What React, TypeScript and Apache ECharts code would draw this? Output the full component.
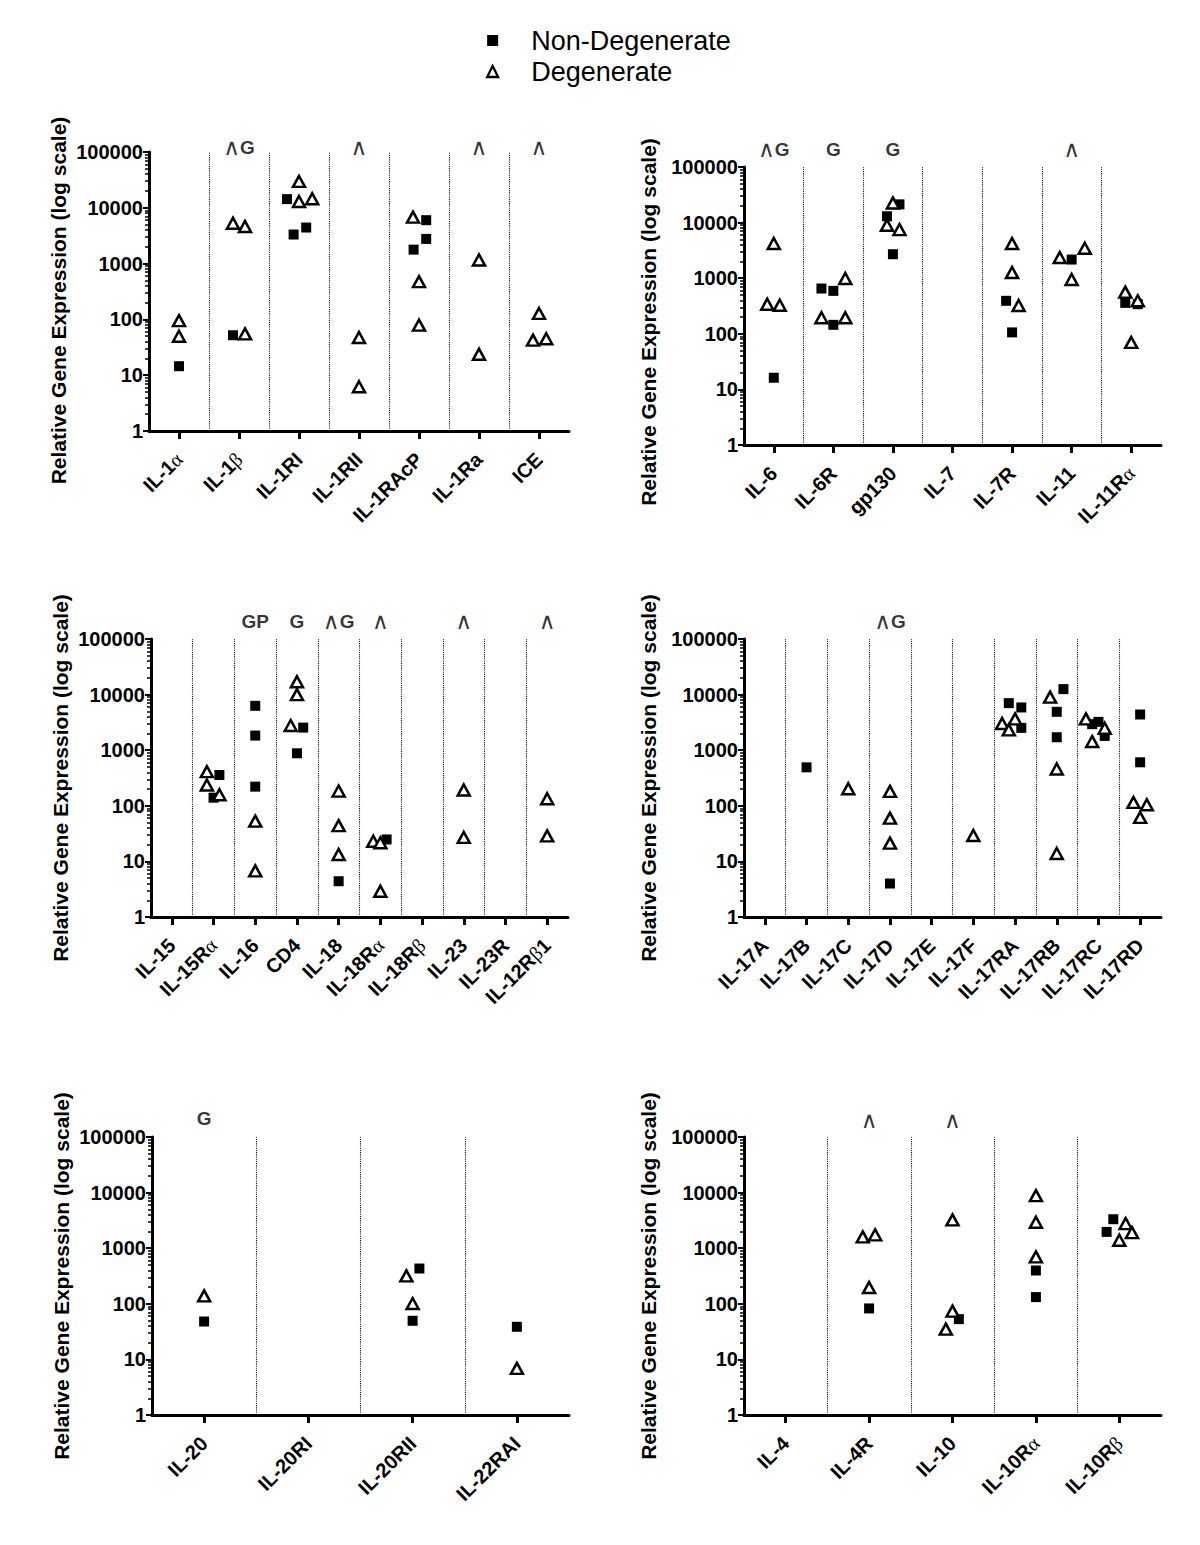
import React, { useEffect, useRef } from "react";
import * as echarts from "echarts";

const FONT = "'Liberation Sans', Arial, sans-serif";
const SERIES_ND = "Non-Degenerate";
const SERIES_D = "Degenerate";
const Y_NAME = "Relative Gene Expression (log scale)";

// ---- Panel 1 ----
const p1Categories = ["IL-1α", "IL-1β", "IL-1RI", "IL-1RII", "IL-1RAcP", "IL-1Ra", "ICE"];
const p1Marks = ["", "∧G", "", "∧", "", "∧", "∧"];
// [categoryIndex, jitter (fraction of category), value]
const p1NonDeg = [
  [0, 0, 14.5], [1, -0.1, 52], [2, -0.2, 14300], [2, -0.09, 3320], [2, 0.12, 4430],
  [4, 0.12, 6000], [4, 0.12, 2770], [4, -0.09, 1780],
];
const p1Deg = [
  [0, 0, 95], [0, 0, 50], [1, -0.1, 5300], [1, 0.1, 4620], [1, 0.1, 55],
  [2, 0, 29700], [2, 0, 13000], [2, 0.22, 14500], [3, 0, 47.5], [3, 0, 6.2],
  [4, -0.1, 6800], [4, 0, 475], [4, 0, 79], [5, 0, 1160], [5, 0, 23.8],
  [6, 0, 128], [6, -0.1, 42.5], [6, 0.12, 45],
];

// ---- Panel 2 ----
const p2Categories = ["IL-6", "IL-6R", "gp130", "IL-7", "IL-7R", "IL-11", "IL-11Rα"];
const p2Marks = ["∧G", "G", "G", "", "", "∧", ""];
const p2NonDeg = [
  [0, 0, 16.2], [1, -0.2, 652], [1, 0, 592], [1, 0, 145],
  [2, 0.11, 21300], [2, -0.1, 13000], [2, 0, 2700],
  [4, -0.1, 392], [4, 0, 106], [5, 0, 2165], [6, -0.1, 360], [6, 0.11, 341],
];
const p2Deg = [
  [0, 0, 4200], [0, -0.11, 341], [0, 0.1, 327],
  [1, 0.2, 986], [1, -0.2, 194], [1, 0.2, 194],
  [2, 0, 22500], [2, -0.1, 8950], [2, 0.11, 7490],
  [4, 0, 4200], [4, 0, 1265], [4, 0.11, 323],
  [5, -0.2, 2350], [5, 0.22, 3460], [5, 0, 946],
  [6, -0.1, 561], [6, 0.11, 392], [6, 0, 70],
];

// ---- Panel 3 ----
const p3Categories = ["IL-15", "IL-15Rα", "IL-16", "CD4", "IL-18", "IL-18Rα", "IL-18Rβ", "IL-23", "IL-23R", "IL-12Rβ1"];
const p3Marks = ["", "", "GP", "G", "∧G", "∧", "", "∧", "", "∧"];
const p3NonDeg = [
  [1, 0.14, 358], [1, 0, 140], [2, 0, 6280], [2, 0, 1833], [2, 0, 221],
  [3, 0.15, 2550], [3, 0, 880], [4, 0, 4.4], [5, 0.15, 24.8],
];
const p3Deg = [
  [1, -0.16, 411], [1, -0.16, 237], [1, 0.14, 158], [2, 0, 53], [2, 0, 6.75],
  [3, 0, 17000], [3, 0, 10000], [3, -0.15, 2775],
  [4, 0, 184], [4, 0, 44], [4, 0, 13.3],
  [5, -0.17, 23], [5, 0, 21.6], [5, 0, 2.9],
  [7, 0, 192], [7, 0, 27], [9, 0, 134], [9, 0, 28.8],
];

// ---- Panel 4 ----
const p4Categories = ["IL-17A", "IL-17B", "IL-17C", "IL-17D", "IL-17E", "IL-17F", "IL-17RA", "IL-17RB", "IL-17RC", "IL-17RD"];
const p4Marks = ["", "", "", "∧G", "", "", "", "", "", ""];
const p4NonDeg = [
  [1, 0, 492], [3, 0, 4.0],
  [6, -0.15, 7020], [6, 0.15, 5870], [6, 0.15, 2520],
  [7, 0.16, 12550], [7, 0, 4900], [7, 0, 1710],
  [8, -0.15, 2940], [8, 0, 3230], [8, 0.15, 1808],
  [9, 0, 4385], [9, 0, 606],
];
const p4Deg = [
  [2, 0, 203], [3, 0, 182], [3, 0, 60], [3, 0, 21.3], [5, 0, 29.3],
  [6, 0, 3660], [6, -0.31, 3020], [6, -0.15, 2320],
  [7, -0.16, 9000], [7, 0, 459], [7, 0, 13.9],
  [8, -0.3, 3660], [8, 0.15, 2485], [8, -0.15, 1430],
  [9, -0.16, 115], [9, 0.16, 104.5], [9, 0, 61.8],
];

// ---- Panel 5 ----
const p5Categories = ["IL-20", "IL-20RI", "IL-20RII", "IL-22RAI"];
const p5Marks = ["G", "", "", ""];
const p5NonDeg = [[0, 0, 48], [2, 0.065, 431], [2, 0, 49.5], [3, 0, 38.6]];
const p5Deg = [[0, 0, 139], [2, -0.06, 318], [2, 0, 101], [3, 0, 6.9]];

// ---- Panel 6 ----
const p6Categories = ["IL-4", "IL-4R", "IL-10", "IL-10Rα", "IL-10Rβ"];
const p6Marks = ["", "∧", "∧", "", ""];
const p6NonDeg = [
  [1, 0, 82.5], [2, 0.076, 53], [3, 0, 397], [3, 0, 132],
  [4, -0.072, 3320], [4, -0.152, 1965],
];
const p6Deg = [
  [1, -0.076, 1600], [1, 0.072, 1740], [1, 0, 196],
  [2, 0, 3230], [2, 0, 73.8], [2, -0.08, 35],
  [3, 0, 8830], [3, 0, 2930], [3, 0, 699],
  [4, 0.076, 2773], [4, 0.152, 1910], [4, 0, 1393],
];

const Y_MIN = 1;
const Y_MAX = 100000;

// layout (pixels)
const layouts = [
  { left: 149, top: 152, width: 420, height: 279, markDy: 5, nameGap: 80, namePad: 18 },
  { left: 744, top: 167, width: 417, height: 278, markDy: 18, nameGap: 85, namePad: 32 },
  { left: 151, top: 639, width: 417, height: 278, markDy: 18, nameGap: 80, namePad: 0 },
  { left: 744, top: 639, width: 417, height: 278, markDy: 18, nameGap: 85, namePad: 0 },
  { left: 152, top: 1137, width: 417, height: 278, markDy: 19, nameGap: 80, namePad: 0 },
  { left: 744, top: 1137, width: 417, height: 278, markDy: 17, nameGap: 85, namePad: 0 },
];

const panelData = [
  { cats: p1Categories, marks: p1Marks, nd: p1NonDeg, d: p1Deg },
  { cats: p2Categories, marks: p2Marks, nd: p2NonDeg, d: p2Deg },
  { cats: p3Categories, marks: p3Marks, nd: p3NonDeg, d: p3Deg },
  { cats: p4Categories, marks: p4Marks, nd: p4NonDeg, d: p4Deg },
  { cats: p5Categories, marks: p5Marks, nd: p5NonDeg, d: p5Deg },
  { cats: p6Categories, marks: p6Marks, nd: p6NonDeg, d: p6Deg },
];

function labelRich(s: string): string {
  let out = "";
  let buf = "";
  for (const ch of s) {
    if (ch === "α" || ch === "β") {
      if (buf) { out += `{b|${buf}}`; buf = ""; }
      out += `{g|${ch}}`;
    } else buf += ch;
  }
  if (buf) out += `{b|${buf}}`;
  return out;
}

function markRich(s: string): string {
  let out = "";
  let buf = "";
  for (const ch of s) {
    if (ch === "∧") {
      if (buf) { out += `{b|${buf}}`; buf = ""; }
      out += `{w|${ch}}`;
    } else buf += ch;
  }
  if (buf) out += `{b|${buf}}`;
  return out;
}

function buildOption() {
  const grid: any[] = [];
  const xAxis: any[] = [];
  const yAxis: any[] = [];
  const series: any[] = [];

  panelData.forEach((p, k) => {
    const L = layouts[k];
    const n = p.cats.length;
    grid.push({ left: L.left, top: L.top, width: L.width, height: L.height, containLabel: false });
    xAxis.push({
      type: "category",
      gridIndex: k,
      data: p.cats,
      boundaryGap: true,
      axisLine: { show: true, lineStyle: { color: "#000", width: 3 } },
      axisTick: { show: true, alignWithLabel: true, length: 8, lineStyle: { color: "#000", width: 3 } },
      axisLabel: {
        interval: 0,
        rotate: 45,
        margin: 25,
        formatter: (v: string) => labelRich(v),
        rich: {
          b: { fontFamily: FONT, fontWeight: "bold", fontSize: 20, color: "#000" },
          g: { fontFamily: "'Liberation Serif', serif", fontWeight: "normal", fontSize: 20, color: "#000" },
        },
      },
      splitLine: { show: false },
    });
    xAxis.push({
      type: "value",
      gridIndex: k,
      min: 0,
      max: n,
      show: false,
      splitLine: { show: false },
    });
    yAxis.push({
      type: "log",
      logBase: 10,
      gridIndex: k,
      min: Y_MIN,
      max: Y_MAX,
      name: Y_NAME,
      nameLocation: "middle",
      nameGap: L.nameGap,
      nameTextStyle: {
        fontFamily: FONT,
        fontWeight: "bold",
        fontSize: 21,
        color: "#000",
        padding: [0, L.namePad, 0, 0],
      },
      axisLine: { show: true, lineStyle: { color: "#000", width: 3 } },
      axisTick: { show: true, length: 6, lineStyle: { color: "#000", width: 2 } },
      minorTick: { show: true, splitNumber: 9, length: 4, lineStyle: { color: "#000", width: 1.5 } },
      axisLabel: {
        margin: 6,
        fontFamily: FONT,
        fontWeight: "bold",
        fontSize: 20,
        color: "#000",
        formatter: (v: number) => String(Math.round(v)),
      },
      splitLine: { show: false },
      minorSplitLine: { show: false },
    });

    const toXY = (arr: number[][]) => arr.map((r) => [r[0] + 0.5 + r[1], r[2]]);

    series.push({
      type: "scatter",
      name: SERIES_ND,
      xAxisIndex: 2 * k + 1,
      yAxisIndex: k,
      symbol: "rect",
      symbolSize: 10,
      itemStyle: { color: "#000", opacity: 1 },
      data: toXY(p.nd),
      clip: false,
      z: 3,
    });
    series.push({
      type: "scatter",
      name: SERIES_D,
      xAxisIndex: 2 * k + 1,
      yAxisIndex: k,
      symbol: "triangle",
      symbolSize: [12, 11],
      itemStyle: { color: "#fff", borderColor: "#000", borderWidth: 2.5, opacity: 1 },
      data: toXY(p.d),
      clip: false,
      z: 4,
    });
    const marksData: any[] = [];
    p.marks.forEach((m, i) => {
      if (m) marksData.push({ value: [i + 0.5, Y_MAX], mark: m });
    });
    const seps: any[] = [];
    for (let i = 1; i < n; i++) seps.push({ xAxis: i });
    series.push({
      type: "scatter",
      name: "annotations",
      xAxisIndex: 2 * k + 1,
      yAxisIndex: k,
      symbolSize: 0,
      clip: false,
      silent: true,
      data: marksData,
      label: {
        show: true,
        position: "inside",
        offset: [0, -L.markDy],
        formatter: (params: any) => markRich(params.data.mark),
        rich: {
          b: { fontFamily: FONT, fontWeight: "bold", fontSize: 19, color: "#000", lineHeight: 22 },
          w: { fontFamily: "'DejaVu Sans', sans-serif", fontWeight: "normal", fontSize: 23, color: "#000", lineHeight: 22 },
        },
      },
      markLine: {
        silent: true,
        symbol: ["none", "none"],
        label: { show: false },
        lineStyle: { type: "dotted", color: "#111", width: 1.1 },
        data: seps,
      },
      z: 2,
    });
  });

  return {
    animation: false,
    backgroundColor: "#fff",
    legend: {
      data: [
        { name: SERIES_ND },
        { name: SERIES_D, itemStyle: { borderWidth: 2.3, borderColor: "#000", color: "#fff" } },
      ],
      orient: "vertical",
      left: 481,
      top: 22,
      itemWidth: 11,
      itemHeight: 11,
      itemGap: 4,
      selectedMode: false,
      textStyle: { fontFamily: FONT, fontSize: 27, color: "#000", lineHeight: 26, padding: [0, 0, 0, 28] },
    },
    grid,
    xAxis,
    yAxis,
    series,
  };
}

export default function App() {
  const ref = useRef<HTMLDivElement>(null);
  useEffect(() => {
    if (!ref.current) return;
    const chart = echarts.init(ref.current, null, { renderer: "svg" });
    chart.setOption(buildOption() as any);
    return () => chart.dispose();
  }, []);
  return (
    <div
      ref={ref}
      style={{ position: "absolute", left: 0, top: 0, width: 1200, height: 1545, background: "#fff" }}
    />
  );
}
